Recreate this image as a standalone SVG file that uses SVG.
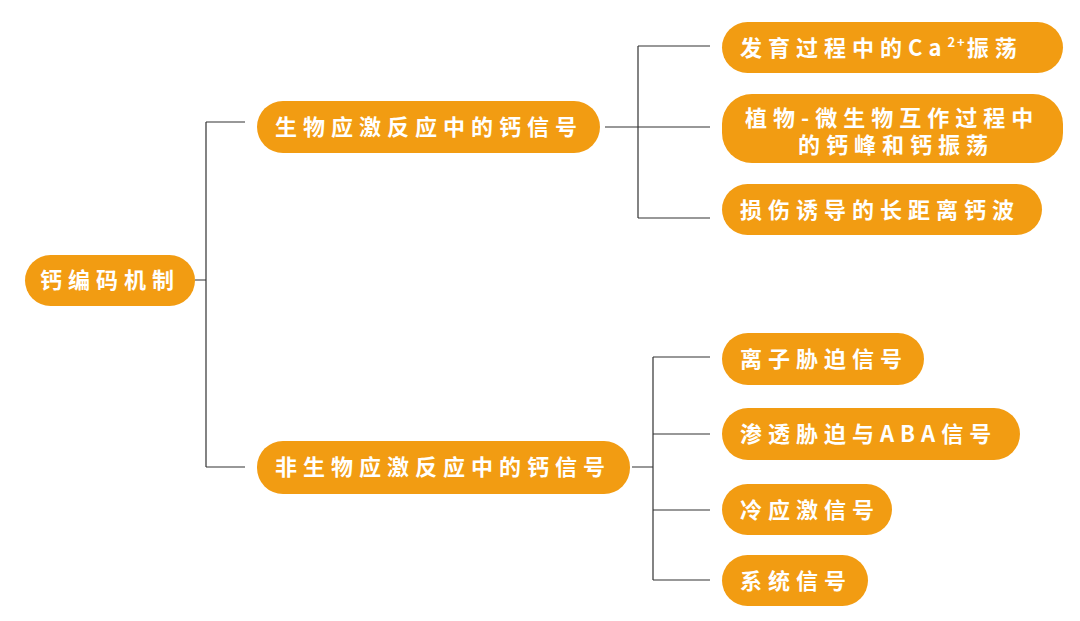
<svg xmlns="http://www.w3.org/2000/svg" width="1080" height="621" viewBox="0 0 1080 621">
<style>
.n{fill:#F29C12}
.t{fill:#fff;font-family:"Noto Sans CJK SC","Noto Sans",sans-serif;font-weight:bold;font-size:22px;letter-spacing:6px}
.c{stroke:#333;stroke-width:1.2;fill:none}
</style>
<rect width="1080" height="621" fill="#fff"/>
<g id="connectors" class="c">
<path d="M195 280H206M206 122V467M206 122H245M206 467H245"/>
<path d="M605 127H638M638 46V218M638 46H710M638 127H710M638 218H710"/>
<path d="M632 467H653M653 357V580M653 357H710M653 434H710M653 510H710M653 580H710"/>
</g>
<g id="root"><rect class="n" x="25" y="255" width="170" height="51" rx="25.5"/><text class="t" x="40" y="288">钙编码机制</text></g>
<g id="bio"><rect class="n" x="257" y="101" width="343" height="52" rx="26"/><text class="t" x="275" y="135">生物应激反应中的钙信号</text></g>
<g id="abio"><rect class="n" x="257" y="441" width="373" height="53" rx="26"/><text class="t" x="275" y="475">非生物应激反应中的钙信号</text></g>
<g id="b1"><rect class="n" x="722" y="22" width="341" height="51" rx="25.5"/><text class="t" x="740" y="56">发育过程中的Ca<tspan font-size="13" dy="-9" letter-spacing="2">2+</tspan><tspan dy="9">振荡</tspan></text></g>
<g id="b2"><rect class="n" x="722" y="94" width="341" height="69" rx="30"/><text class="t" x="745" y="126">植物-微生物互作过程中</text><text class="t" x="798" y="153">的钙峰和钙振荡</text></g>
<g id="b3"><rect class="n" x="722" y="184" width="320" height="51" rx="25.5"/><text class="t" x="740" y="218">损伤诱导的长距离钙波</text></g>
<g id="a1"><rect class="n" x="722" y="333" width="202" height="52" rx="26"/><text class="t" x="740" y="367">离子胁迫信号</text></g>
<g id="a2"><rect class="n" x="722" y="408" width="298" height="52" rx="26"/><text class="t" x="740" y="442">渗透胁迫与ABA信号</text></g>
<g id="a3"><rect class="n" x="722" y="484" width="170" height="51" rx="25.5"/><text class="t" x="740" y="518">冷应激信号</text></g>
<g id="a4"><rect class="n" x="722" y="555" width="146" height="51" rx="25.5"/><text class="t" x="740" y="589">系统信号</text></g>
</svg>
